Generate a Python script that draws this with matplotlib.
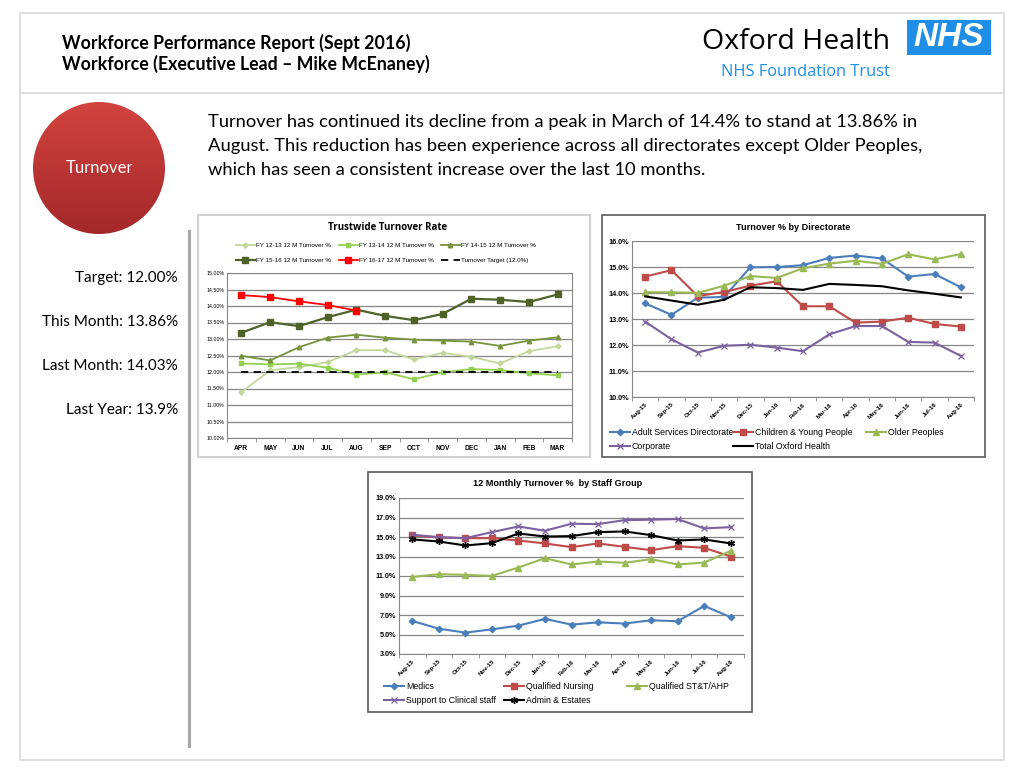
import numpy as np
import matplotlib
matplotlib.use("Agg")
import matplotlib.pyplot as plt
from matplotlib.patches import Rectangle, Circle

W, H = 1024, 768

# ---- data: Trustwide turnover rate (financial year months) ----
fy_months = ["APR", "MAY", "JUN", "JUL", "AUG", "SEP", "OCT", "NOV", "DEC", "JAN", "FEB", "MAR"]
fy12_13 = [11.39, 12.05, 12.15, 12.30, 12.66, 12.66, 12.38, 12.58, 12.46, 12.26, 12.63, 12.78]
fy13_14 = [12.26, 12.23, 12.25, 12.13, 11.92, 11.99, 11.78, 11.99, 12.09, 12.06, 11.96, 11.90]
fy14_15 = [12.49, 12.35, 12.75, 13.04, 13.13, 13.04, 12.98, 12.95, 12.92, 12.79, 12.95, 13.05]
fy15_16 = [13.19, 13.51, 13.39, 13.66, 13.89, 13.70, 13.57, 13.76, 14.22, 14.19, 14.12, 14.35]
fy16_17 = [14.33, 14.27, 14.14, 14.03, 13.86]
turnover_target = 12.0

# ---- data: turnover by directorate ----
months = ["Aug-15", "Sep-15", "Oct-15", "Nov-15", "Dec-15", "Jan-16", "Feb-16",
          "Mar-16", "Apr-16", "May-16", "Jun-16", "Jul-16", "Aug-16"]
adult_services = [13.60, 13.16, 13.82, 13.85, 14.99, 15.00, 15.07, 15.35, 15.44, 15.33, 14.63, 14.73, 14.22]
children_young = [14.63, 14.88, 13.88, 14.04, 14.28, 14.45, 13.49, 13.49, 12.86, 12.90, 13.05, 12.81, 12.71]
older_peoples = [14.03, 14.03, 14.00, 14.28, 14.65, 14.58, 14.95, 15.13, 15.24, 15.12, 15.49, 15.29, 15.50]
corporate = [12.90, 12.22, 11.71, 11.97, 12.01, 11.90, 11.76, 12.41, 12.73, 12.73, 12.12, 12.09, 11.58]
total_oxford = [13.87, 13.71, 13.55, 13.74, 14.22, 14.19, 14.12, 14.35, 14.31, 14.26, 14.10, 13.97, 13.83]

# ---- data: 12 monthly turnover by staff group ----
medics = [6.39, 5.60, 5.19, 5.53, 5.91, 6.60, 6.01, 6.25, 6.12, 6.46, 6.36, 7.93, 6.77]
qual_nursing = [15.16, 14.95, 14.88, 14.88, 14.64, 14.34, 13.96, 14.34, 13.99, 13.65, 14.06, 13.89, 13.00]
qual_stt_ahp = [10.91, 11.18, 11.12, 11.01, 11.87, 12.83, 12.18, 12.49, 12.35, 12.73, 12.18, 12.38, 13.58]
support_clinical = [15.23, 14.99, 14.88, 15.50, 16.08, 15.64, 16.36, 16.32, 16.73, 16.77, 16.84, 15.88, 16.01]
admin_estates = [14.75, 14.54, 14.13, 14.37, 15.36, 15.05, 15.09, 15.50, 15.57, 15.19, 14.64, 14.75, 14.34]

stats = ["Target: 12.00%", "This Month: 13.86%", "Last Month: 14.03%", "Last Year: 13.9%"]
body_lines = [
    "Turnover has continued its decline from a peak in March of 14.4% to stand at 13.86% in",
    "August. This reduction has been experience across all directorates except Older Peoples,",
    "which has seen a consistent increase over the last 10 months.",
]

SLIDE_FONT = "Lato"
CHART_FONT = "Liberation Sans"


def rect(x0, y0, x1, y1):
    return [x0 / W, 1 - y1 / H, (x1 - x0) / W, (y1 - y0) / H]


def fig_xy(x, y):
    return x / W, 1 - y / H


def column_legends(fig, ax, col_x, y_top, size, hlen, spacing):
    # one legend per column so entries read row by row like the Excel legend
    handles, labels = ax.get_legend_handles_labels()
    ncol = len(col_x)
    for c, x in enumerate(col_x):
        hs = handles[c::ncol]
        ls = labels[c::ncol]
        fig.legend(hs, ls, loc="upper left", bbox_to_anchor=fig_xy(x, y_top), frameon=False,
                   handlelength=hlen, handletextpad=0.2, labelspacing=spacing, borderpad=0,
                   borderaxespad=0, prop={"family": CHART_FONT, "size": size})


fig = plt.figure(figsize=(W / 100, H / 100), dpi=100)
fig.patch.set_facecolor("white")

# background layer in pixel coordinates
bg = fig.add_axes([0, 0, 1, 1])
bg.axis("off")

bg.add_patch(Rectangle((20, 13), 984, 747, fill=False, ec="#d9d9d9", lw=1.2))
bg.plot([20, 1004], [93, 93], color="#d9d9d9", lw=1.2)
bg.plot([189, 189], [231, 746], color="#a6a6a6", lw=2.2)

# header
bg.text(62, 43, "Workforce Performance Report (Sept 2016)", fontsize=12.8, fontweight="bold",
        family=SLIDE_FONT, va="center", ha="left")
bg.text(62, 64, "Workforce (Executive Lead \u2013 Mike McEnaney)", fontsize=12.8, fontweight="bold",
        family=SLIDE_FONT, va="center", ha="left")
bg.text(890, 42, "Oxford Health", fontsize=20.5, family="Open Sans", va="center", ha="right")
bg.text(890, 72, "NHS Foundation Trust", fontsize=11.8, family="Open Sans", color="#1f8ee6",
        va="center", ha="right")
bg.add_patch(Rectangle((907, 20), 84, 35, fc="#1f8ee6", ec="none"))
bg.text(949, 38, "NHS", fontsize=24, fontweight="bold", style="italic", family="Liberation Sans",
        color="white", va="center", ha="center")

# red circle with vertical shading
grad = np.linspace(0, 1, 256).reshape(-1, 1)
circ = Circle((99, 168), 66, fc="none", ec="none")
bg.add_patch(circ)
cmap = matplotlib.colors.LinearSegmentedColormap.from_list("red", ["#d2433e", "#a3282a"])
img = bg.imshow(grad, extent=(33, 165, 234, 102), cmap=cmap, aspect="auto", zorder=1)
img.set_clip_path(circ)
bg.set_xlim(0, W)
bg.set_ylim(H, 0)
bg.text(99, 168, "Turnover", fontsize=12, family=SLIDE_FONT, color="white", ha="center", va="center", zorder=2)

for i, line in enumerate(body_lines):
    bg.text(208, 122 + 24 * i, line, fontsize=13.2, family=SLIDE_FONT, ha="left", va="center")

for i, s in enumerate(stats):
    bg.text(178, 278 + 44 * i, s, fontsize=11, family=SLIDE_FONT, ha="right", va="center")

# chart frames
bg.add_patch(Rectangle((198, 215), 392, 242, fc="white", ec="#c8c8c8", lw=1.2))
bg.add_patch(Rectangle((602, 215), 383, 242, fc="white", ec="#5a5a5a", lw=1.2))
bg.add_patch(Rectangle((368, 472), 384, 240, fc="white", ec="#5a5a5a", lw=1.2))


def cat_axis(ax, labels, rot, size):
    n = len(labels)
    ax.set_xlim(-0.5, n - 0.5)
    ax.set_xticks(range(n))
    ax.set_xticks(np.arange(-0.5, n), minor=True)
    ax.tick_params(axis="x", which="major", length=0)
    ax.tick_params(axis="x", which="minor", length=3, color="#868686")
    if rot:
        ax.set_xticklabels(labels, rotation=45, ha="right", rotation_mode="anchor",
                           fontsize=size, fontweight="bold", family=CHART_FONT)
    else:
        ax.set_xticklabels(labels, fontsize=size, fontweight="bold", family=CHART_FONT)
    ax.tick_params(axis="y", length=0, pad=2)
    ax.grid(axis="y", color="#868686", lw=0.9)
    ax.set_axisbelow(True)


# ---- chart 1: trustwide turnover rate ----
ax1 = fig.add_axes(rect(227, 273, 572, 438))
x12 = np.arange(len(fy_months))
ms = 3.2
ax1.plot(x12, fy12_13, color="#c4d79b", marker="D", ms=ms - 0.6, lw=1.3, label="FY 12-13 12 M Turnover %")
ax1.plot(x12, fy13_14, color="#92d050", marker="s", ms=ms, lw=1.3, label="FY 13-14 12 M Turnover %")
ax1.plot(x12, fy14_15, color="#77933c", marker="^", ms=ms, lw=1.3, label="FY 14-15 12 M Turnover %")
ax1.plot(x12, fy15_16, color="#4f6228", marker="s", ms=ms + 0.8, lw=1.6, label="FY 15-16 12 M Turnover %")
ax1.plot(np.arange(len(fy16_17)), fy16_17, color="#ff0000", marker="s", ms=ms + 0.8, lw=1.3,
         label="FY 16-17 12 M Turnover %")
ax1.plot(x12, [turnover_target] * len(fy_months), color="black", ls=(0, (4, 3)), lw=1.3,
         label="Turnover Target (12.0%)")
ax1.set_ylim(10, 15)
ax1.set_yticks(np.arange(10, 15.01, 0.5))
ax1.set_yticklabels([f"{v:.2f}%" for v in np.arange(10, 15.01, 0.5)], fontsize=3.8, family=CHART_FONT)
cat_axis(ax1, fy_months, False, 4.8)
ax1.tick_params(axis="x", pad=5)
for sp in ax1.spines.values():
    sp.set_color("#868686")
column_legends(fig, ax1, [236, 339, 441], 243, 4.5, 3.0, 1.45)
fig.text(*fig_xy(388, 228), "Trustwide Turnover Rate", fontsize=7, fontweight="bold",
         family="Open Sans", ha="center", va="center")

# ---- chart 2: turnover by directorate ----
ax2 = fig.add_axes(rect(632, 241, 974, 397))
x13 = np.arange(len(months))
ax2.plot(x13, adult_services, color="#4a7ebb", marker="D", ms=3.2, lw=1.5, label="Adult Services Directorate")
ax2.plot(x13, children_young, color="#be4b48", marker="s", ms=4, lw=1.5, label="Children & Young People")
ax2.plot(x13, older_peoples, color="#98b954", marker="^", ms=4, lw=1.5, label="Older Peoples")
ax2.plot(x13, corporate, color="#7d60a0", marker="x", ms=4.5, mew=0.9, lw=1.5, label="Corporate")
ax2.plot(x13, total_oxford, color="black", lw=1.5, label="Total Oxford Health")
ax2.set_ylim(10, 16)
ax2.set_yticks(np.arange(10, 16.01, 1))
ax2.set_yticklabels([f"{v:.1f}%" for v in np.arange(10, 16.01, 1)], fontsize=5.2, fontweight="bold",
                    family=CHART_FONT)
cat_axis(ax2, months, True, 4.4)
for side in ("top", "right"):
    ax2.spines[side].set_visible(False)
ax2.spines["left"].set_color("#868686")
ax2.spines["bottom"].set_color("#868686")
column_legends(fig, ax2, [610, 733, 866], 428, 6.3, 2.3, 0.6)
fig.text(*fig_xy(793, 228), "Turnover % by Directorate", fontsize=6.6, fontweight="bold",
         family=CHART_FONT, ha="center", va="center")

# ---- chart 3: 12 monthly turnover by staff group ----
ax3 = fig.add_axes(rect(399, 498, 744, 654))
ax3.plot(x13, medics, color="#4a7ebb", marker="D", ms=3.2, lw=1.5, label="Medics")
ax3.plot(x13, qual_nursing, color="#be4b48", marker="s", ms=4, lw=1.5, label="Qualified Nursing")
ax3.plot(x13, qual_stt_ahp, color="#98b954", marker="^", ms=4, lw=1.5, label="Qualified ST&T/AHP")
ax3.plot(x13, support_clinical, color="#7d60a0", marker="x", ms=4.5, mew=0.9, lw=1.5,
         label="Support to Clinical staff")
ax3.plot(x13, admin_estates, color="black", marker=(6, 2, 0), ms=5, mew=1.0, lw=1.5,
         label="Admin & Estates")
ax3.set_ylim(3, 19)
ax3.set_yticks(np.arange(3, 19.01, 2))
ax3.set_yticklabels([f"{v:.1f}%" for v in np.arange(3, 19.01, 2)], fontsize=5.2, fontweight="bold",
                    family=CHART_FONT)
cat_axis(ax3, months, True, 4.4)
for side in ("top", "right"):
    ax3.spines[side].set_visible(False)
ax3.spines["left"].set_color("#868686")
ax3.spines["bottom"].set_color("#868686")
column_legends(fig, ax3, [384, 504, 627], 682, 6.3, 2.3, 0.6)
fig.text(*fig_xy(558, 483), "12 Monthly Turnover %  by Staff Group", fontsize=6.6, fontweight="bold",
         family=CHART_FONT, ha="center", va="center")

fig.savefig("out.png", dpi=100)
